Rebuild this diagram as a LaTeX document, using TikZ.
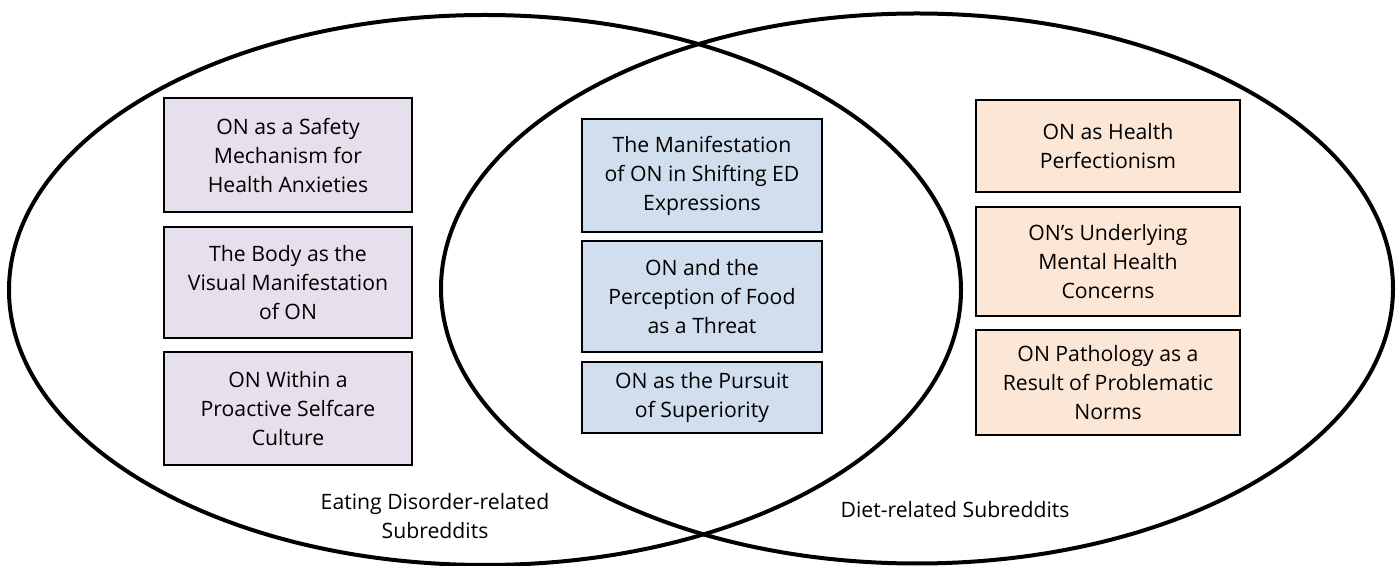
\documentclass[tikz,border=0pt]{standalone}
\usepackage{fontspec}
\setmainfont{Open Sans}
\definecolor{edfill}{HTML}{E5E0EC}
\definecolor{bothfill}{HTML}{D1DEEE}
\definecolor{dietfill}{HTML}{FCE6D6}
\tikzset{
  theme/.style={draw=black, line width=1pt, align=center, inner sep=0pt,
    font=\fontsize{10.6}{14.5}\selectfont},
  edbox/.style={theme, fill=edfill, minimum width=124pt},
  bothbox/.style={theme, fill=bothfill, minimum width=120pt},
  dietbox/.style={theme, fill=dietfill, minimum width=132pt},
  setlabel/.style={align=center, font=\fontsize{10.6}{14.5}\selectfont}
}
\begin{document}
\begin{tikzpicture}[x=0.5pt, y=-0.5pt]
\useasboundingbox (0,0) rectangle (1398,566);
\draw[line width=2pt] (485,290) ellipse [x radius=238pt, y radius=137.5pt];
\draw[line width=2pt] (917,288.5) ellipse [x radius=238pt, y radius=137.5pt];

\node[edbox, minimum height=57pt] (ed1) at (288,155) {ON as a Safety\\Mechanism for\\Health Anxieties};
\node[edbox, minimum height=55.5pt] (ed2) at (288,282.5) {The Body as the\\Visual Manifestation\\of ON};
\node[edbox, minimum height=56.5pt] (ed3) at (288,408.5) {ON Within a\\Proactive Selfcare\\Culture};

\node[bothbox, minimum height=56.5pt] (both1) at (702,175.5) {The Manifestation\\of ON in Shifting ED\\Expressions};
\node[bothbox, minimum height=55.5pt] (both2) at (702,296.5) {ON and the\\Perception of Food\\as a Threat};
\node[bothbox, minimum height=35.5pt] (both3) at (702,397.5) {ON as the Pursuit\\of Superiority};

\node[dietbox, minimum height=46pt] (diet1) at (1108,146) {ON as Health\\Perfectionism};
\node[dietbox, minimum height=54.5pt] (diet2) at (1108,261.5) {ON’s Underlying\\Mental Health\\Concerns};
\node[dietbox, minimum height=52.5pt] (diet3) at (1108,382.5) {ON Pathology as a\\Result of Problematic\\Norms};

\node[setlabel] (edlabel) at (435,516) {Eating Disorder-related\\Subreddits};
\node[setlabel] (dietlabel) at (955,510) {Diet-related Subreddits};
\end{tikzpicture}
\end{document}
